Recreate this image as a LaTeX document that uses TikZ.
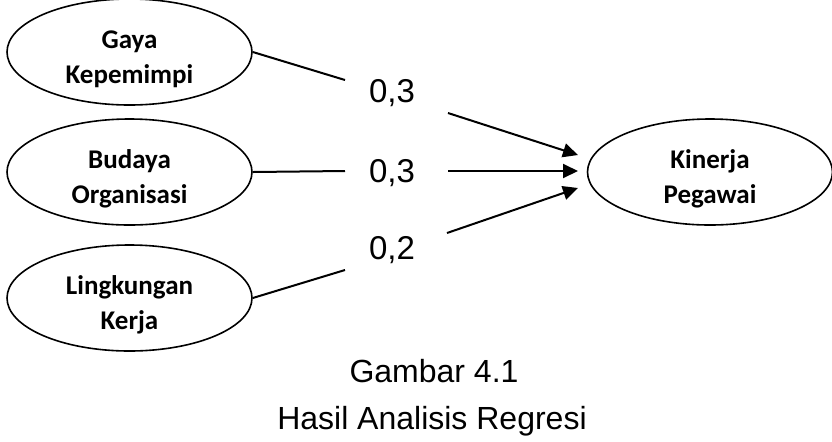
\documentclass[tikz,border=0pt]{standalone}
\usepackage{fontspec}
\setmainfont{Liberation Sans}
\newfontfamily\varfont{Carlito}
\usetikzlibrary{arrows.meta,shapes.geometric}

\begin{document}
\begin{tikzpicture}[
  x=0.5pt,y=-0.5pt,
  >={Triangle[length=7.5pt,width=7pt]},
  var/.style   ={draw,ellipse,line width=0.8pt,minimum width=122.5pt,
                 minimum height=53pt,inner sep=0pt},
  vtext/.style ={align=center,yshift=-3.5pt,
                 font=\varfont\bfseries\fontsize{13.5}{17.5}\selectfont},
  link/.style  ={line width=1pt},
  arrow/.style ={->,line width=1pt},
  coef/.style  ={font=\fontsize{16.5}{18}\selectfont},
  caption/.style={font=\fontsize{16}{18}\selectfont},
]
\useasboundingbox (0,0) rectangle (832,441);

%% ===== Variables =============================================================
\node[var,label={[vtext]center:Gaya\\Kepemimpi}]    (gaya)    at (129.5,52)  {};
\node[var,label={[vtext]center:Budaya\\Organisasi}] (budaya)  at (129.5,172) {};
\node[var,label={[vtext]center:Lingkungan\\Kerja}]  (lingk)   at (129.5,298) {};
\node[var,label={[vtext]center:Kinerja\\Pegawai}]   (kinerja) at (710,172)   {};

%% ===== Coefficients ==========================================================
\node[coef] (c1) at (392,93)  {0,3};
\node[coef] (c2) at (392,173) {0,3};
\node[coef] (c3) at (392,250) {0,2};

%% ===== Path ends =============================================================
\coordinate (a1) at (345,80);
\coordinate (a2) at (345,171);
\coordinate (a3) at (345,270);
\coordinate (b1) at (448,113);
\coordinate (b2) at (448,171);
\coordinate (b3) at (447,233);
\coordinate (t1) at (578,155);
\coordinate (t2) at (578,171);
\coordinate (t3) at (578,188);

\draw[link] (gaya.east)   -- (a1);
\draw[link] (budaya.east) -- (a2);
\draw[link] (lingk.east)  -- (a3);
\foreach \i in {1,2,3} {
  \draw[arrow] (b\i) -- (t\i);
}

%% ===== Caption ===============================================================
\node[caption] (cap1) at (434,371) {Gambar 4.1};
\node[caption] (cap2) at (432,421) {Hasil Analisis Regresi};

\end{tikzpicture}
\end{document}
